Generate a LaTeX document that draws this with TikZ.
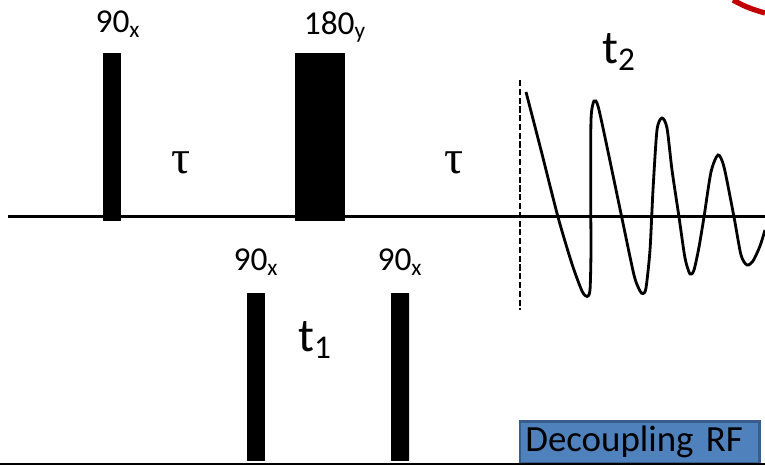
\documentclass[tikz,border=0pt]{standalone}
\usepackage{fontspec}
\setmainfont{Carlito}
\newfontfamily\taufont{Liberation Serif}
\definecolor{boxedge}{HTML}{385D8A}
\definecolor{boxfill}{HTML}{4F81BD}
\definecolor{arcred}{HTML}{C00000}
\tikzset{
  pulse/.style={fill=black,rounded corners=0.4pt,inner sep=0pt,minimum width=#1,minimum height=3.36cm},
  flip/.style={font=\fontsize{19pt}{22pt}\selectfont},
  delay/.style={font=\fontsize{27pt}{30pt}\selectfont},
  taulabel/.style={font=\fontsize{27pt}{30pt}\taufont},
}
\begin{document}
\begin{tikzpicture}[x=0.02cm,y=-0.02cm]
    \useasboundingbox (0,0) rectangle (765,466);
    % channel lines
    \coordinate (top start) at (8,216.5);
    \coordinate (top end) at (765,216.5);
    \coordinate (low start) at (0,464);
    \coordinate (low end) at (765,464);
    \draw[line width=1.5pt] (top start) -- (top end);
    % pulses
    \node[pulse=0.36cm] (p90a) at (112,137) {};
    \node[pulse=1.0cm] (p180) at (320,137) {};
    \node[pulse=0.36cm] (p90b) at (256,377) {};
    \node[pulse=0.36cm] (p90c) at (400,377) {};
    \node[flip] (l90a) at (118,24) {90\textsubscript{x}};
    \node[flip] (l180) at (335,27) {180\textsubscript{y}};
    \node[flip] (l90b) at (256,262) {90\textsubscript{x}};
    \node[flip] (l90c) at (400,262) {90\textsubscript{x}};
    \node[taulabel] (tau1) at (181,163) {τ};
    \node[taulabel] (tau2) at (454,163) {τ};
    \node[delay] (t1) at (315,340) {t\textsubscript{1}};
    \node[delay] (t2) at (619,52) {t\textsubscript{2}};
    % acquisition
    \coordinate (acq top) at (520,80);
    \coordinate (acq low) at (520,310);
    \draw[dash pattern=on 3.5pt off 1.5pt,line width=1.1pt] (acq top) -- (acq low);
    \draw[line width=1.6pt] plot[smooth,tension=0.45] coordinates {
      (526,92) (541,150) (558,217) (572,264) (582,291) (587,296.5) (590,290) (591,250) (590.7,200) (591,120) (594,101)
      (598,106) (606,142) (621.7,217) (634,275) (640,291) (643,293.5) (646,288) (650,250) (653,190) (657,130) (662,118)
      (667,128) (672,170) (679,217) (685,258) (690,274) (694,270) (699,247) (704,217) (711,172) (718,155)
      (724,167) (734,217) (741,255) (747,265) (753,261) (760,246) (765,230)};
    % decoupling box
    \node[draw=boxedge,line width=1.5pt,fill=boxfill,text width=4.58cm,align=left,inner xsep=0.11cm,inner ysep=0pt,minimum height=0.84cm,anchor=north west,font=\fontsize{21pt}{26pt}\selectfont] (rf) at (518.5,420) {Decoupling RF};
    \draw[line width=1.5pt] (low start) -- (low end);
    % mark in the corner
    \coordinate (arc a) at (733,0);
    \coordinate (arc b) at (765,13);
    \draw[line width=3pt,color=arcred] (arc a) .. controls (743,6) and (754,10) .. (arc b);
\end{tikzpicture}
\end{document}
